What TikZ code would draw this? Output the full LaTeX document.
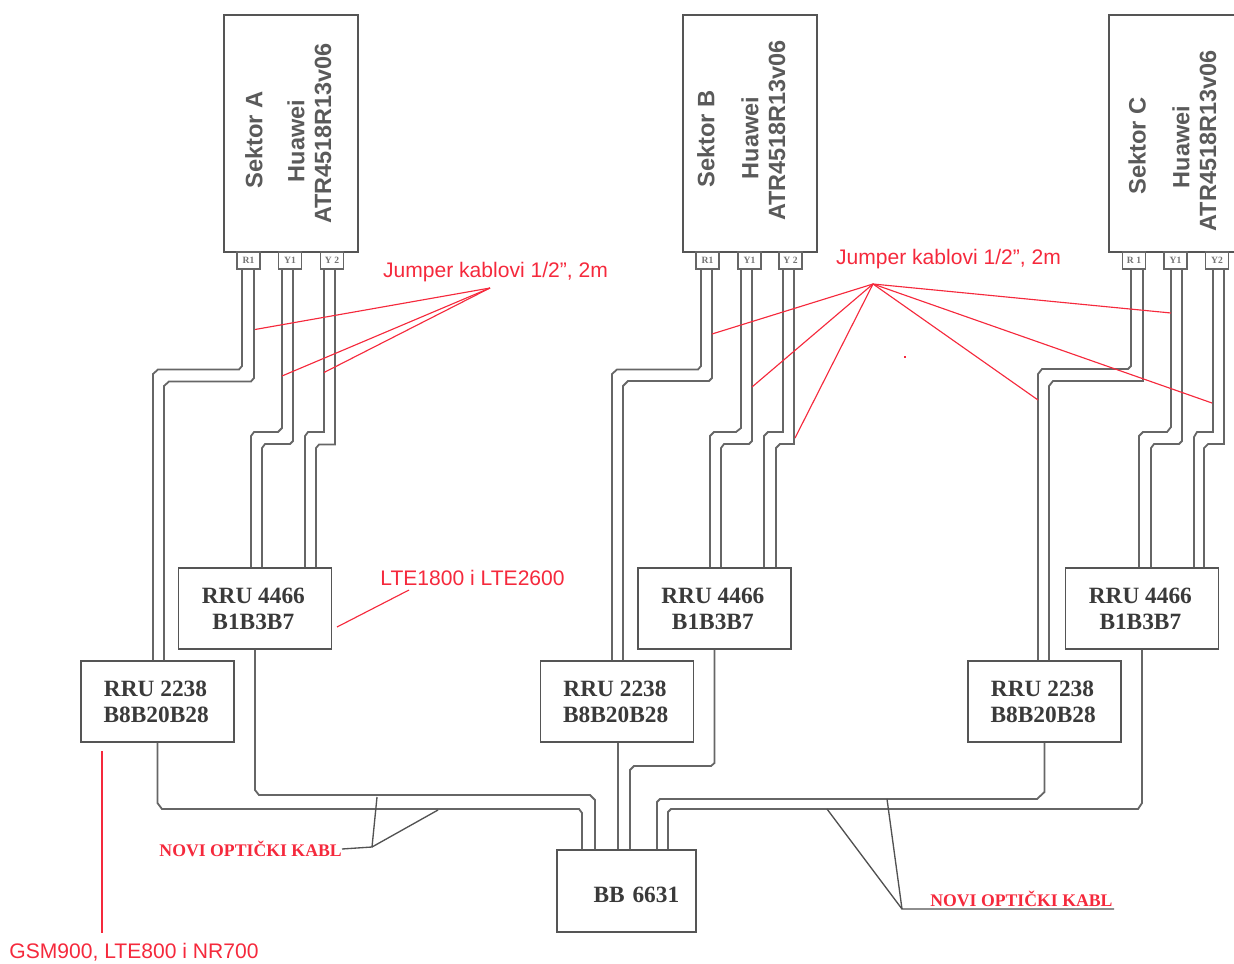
\documentclass[tikz,border=0pt]{standalone}
\usepackage{fontspec}
\setmainfont{Liberation Sans}
\newfontfamily\sbf{Liberation Serif}[BoldFont={Liberation Serif Bold}]
\definecolor{cbl}{HTML}{666666}
\definecolor{bxl}{HTML}{555555}
\definecolor{lab}{HTML}{5A5A5A}
\definecolor{dk}{HTML}{3A3A3A}
\definecolor{rd}{HTML}{F5293C}
\tikzset{
  cable/.style={draw=cbl,line width=1.35pt},
  antbox/.style={draw=bxl,line width=1.5pt,minimum width=100.5pt,minimum height=177.75pt,inner sep=0pt,fill=white},
  portbox/.style={draw=cbl,line width=1.1pt,minimum width=17.25pt,minimum height=12.75pt,inner sep=0pt,font=\sbf\bfseries\fontsize{7.2pt}{8pt}\selectfont,text=gray!90!black},
  rrubox/.style={draw=bxl,line width=1.3pt,minimum width=114.75pt,minimum height=60.75pt,inner sep=0pt,align=center,text=dk,font=\sbf\bfseries\fontsize{17.5pt}{19.6pt}\selectfont},
  bbbox/.style={draw=bxl,line width=1.3pt,minimum width=104.25pt,minimum height=61.5pt,inner sep=0pt,text=dk,font=\sbf\bfseries\fontsize{17.5pt}{19.6pt}\selectfont},
  sectxt/.style={rotate=90,inner sep=0pt,text=lab,font=\bfseries\fontsize{17.6pt}{20pt}\selectfont},
  sectname/.style={sectxt,font=\bfseries\fontsize{17.8pt}{20pt}\selectfont},
  rlabel/.style={inner sep=0pt,text=rd,font=\fontsize{15.8pt}{18pt}\selectfont},
  klabel/.style={inner sep=0pt,text=rd,font=\sbf\bfseries\fontsize{13.3pt}{15pt}\selectfont},
  rleader/.style={draw=rd,line width=0.85pt},
  kleader/.style={draw=cbl!80!black,line width=1pt}
}
\begin{document}
\begin{tikzpicture}[x=0.75pt,y=-0.75pt]
\useasboundingbox (0,0) rectangle (1234,963);
\clip (0,0) rectangle (1234,963);
% antennas
\node[antbox] (antA) at (291,133.5) {};
\node[antbox] (antB) at (750,133.5) {};
\node[antbox] (antC) at (1176,133.5) {};
\node[sectname] (sA1) at (254,140) {Sektor A};
\node[sectxt] (sA2) at (296,141) {Huawei};
\node[sectxt] (sA3) at (323,133.5) {ATR4518R13v06};
\node[sectname] (sB1) at (706,139) {Sektor B};
\node[sectxt] (sB2) at (750,138) {Huawei};
\node[sectxt] (sB3) at (777,130.5) {ATR4518R13v06};
\node[sectname] (sC1) at (1137,146) {Sektor C};
\node[sectxt] (sC2) at (1181,147) {Huawei};
\node[sectxt] (sC3) at (1208,141) {ATR4518R13v06};
% ports
\node[portbox] (rA) at (248.5,260.5) {R1};
\node[portbox] (yA) at (290,260.5) {Y1};
\node[portbox] (zA) at (332,260.5) {Y 2};
\node[portbox] (rB) at (707.5,260.5) {R1};
\node[portbox] (yB) at (749.5,260.5) {Y1};
\node[portbox] (zB) at (790.5,260.5) {Y 2};
\node[portbox] (rC) at (1134,260.5) {R 1};
\node[portbox] (yC) at (1175.5,260.5) {Y1};
\node[portbox] (zC) at (1217,260.5) {Y2};
% RRUs and BB
\node[rrubox] (hA) at (255,608.5) {RRU 4466\hspace*{2.5pt}\\B1B3B7\hspace*{2.5pt}};
\node[rrubox] (lA) at (157.5,701.5) {RRU 2238\hspace*{3pt}\\B8B20B28\hspace*{2pt}};
\node[rrubox] (hB) at (714.5,608.5) {RRU 4466\hspace*{2.5pt}\\B1B3B7\hspace*{2.5pt}};
\node[rrubox] (lB) at (617,701.5) {RRU 2238\hspace*{3pt}\\B8B20B28\hspace*{2pt}};
\node[rrubox] (hC) at (1142,608.5) {RRU 4466\hspace*{2.5pt}\\B1B3B7\hspace*{2.5pt}};
\node[rrubox] (lC) at (1044.5,701.5) {RRU 2238\hspace*{3pt}\\B8B20B28\hspace*{2pt}};
\node[bbbox,text width=84pt,align=right] (bb) at (626.5,891) {\raisebox{-3.5pt}[14pt][3.4pt]{BB 6631}\hspace*{2.5pt}};
% jumpers, sector A
\draw[cable] (rA.south -| 242,0) -- (242,366) -- (239,369.5) -- (158,369.5) -- (153,374) -- (lA.north -| 153,0);
\draw[cable] (rA.south -| 254,0) -- (254,378) -- (251,381.5) -- (169,381.5) -- (164,386) -- (lA.north -| 164,0);
\draw[cable] (yA.south -| 282,0) -- (282,428) -- (278,432) -- (254,432) -- (251,436) -- (hA.north -| 251,0);
\draw[cable] (yA.south -| 293,0) -- (293,441) -- (290,444) -- (265,444) -- (262,448) -- (hA.north -| 262,0);
\draw[cable] (zA.south -| 324,0) -- (324,432) -- (308,432) -- (305,436) -- (hA.north -| 305,0);
\draw[cable] (zA.south -| 335,0) -- (335,444.5) -- (319,444.5) -- (316,448) -- (hA.north -| 316,0);
% jumpers, sector B
\draw[cable] (rB.south -| 701,0) -- (701,366) -- (698,369.5) -- (617,369.5) -- (612,374) -- (lB.north -| 612,0);
\draw[cable] (rB.south -| 712,0) -- (712,378) -- (709,381) -- (628,381) -- (623,386) -- (lB.north -| 623,0);
\draw[cable] (yB.south -| 741,0) -- (741,428) -- (736,432) -- (714,432) -- (710,436) -- (hB.north -| 710,0);
\draw[cable] (yB.south -| 752,0) -- (752,441) -- (749,444) -- (724,444) -- (721,448) -- (hB.north -| 721,0);
\draw[cable] (zB.south -| 783,0) -- (783,432) -- (768,432) -- (764,436) -- (hB.north -| 764,0);
\draw[cable] (zB.south -| 794,0) -- (794,444) -- (780,444) -- (776,448) -- (hB.north -| 776,0);
% jumpers, sector C
\draw[cable] (rC.south -| 1131,0) -- (1131,366) -- (1128,369) -- (1042,369) -- (1038,374) -- (lC.north -| 1038,0);
\draw[cable] (rC.south -| 1143,0) -- (1143,381) -- (1053,381) -- (1049,386) -- (lC.north -| 1049,0);
\draw[cable] (yC.south -| 1171,0) -- (1171,427) -- (1167,432) -- (1143,432) -- (1139,436) -- (hC.north -| 1139,0);
\draw[cable] (yC.south -| 1182,0) -- (1182,441) -- (1179,444) -- (1154,444) -- (1151,448) -- (hC.north -| 1151,0);
\draw[cable] (zC.south -| 1213,0) -- (1213,432) -- (1197,432) -- (1194,437) -- (hC.north -| 1194,0);
\draw[cable] (zC.south -| 1224,0) -- (1224,444) -- (1208,444) -- (1204,448) -- (hC.north -| 1204,0);
% optical cables to BB
\draw[cable] (hA.south) -- (255,790) -- (259,795) -- (590,795) -- (595,800) -- (bb.north -| 595,0);
\draw[cable] (lA.south) -- (157.5,803) -- (162,809) -- (579,809) -- (582,813) -- (bb.north -| 582,0);
\draw[cable] (lB.south -| 618,0) -- (bb.north -| 618,0);
\draw[cable] (hB.south) -- (714.5,763) -- (711,766) -- (634,766) -- (630,770) -- (bb.north -| 630,0);
\draw[cable] (lC.south) -- (1044.5,792) -- (1037,799) -- (660,799) -- (657,802) -- (bb.north -| 657,0);
\draw[cable] (hC.south) -- (1142,803) -- (1138,809) -- (671,809) -- (668,812) -- (bb.north -| 668,0);
% black leaders
\coordinate (kA) at (372,847);
\coordinate (kAs) at (377,797);
\coordinate (kAt) at (438,810);
\coordinate (kB) at (902,909);
\coordinate (kBs) at (887,799);
\coordinate (kBt) at (827,809);
\coordinate (kBe) at (1114,909);
\node[klabel,anchor=east] (nkA) at (342,849) {NOVI OPTIČKI KABL};
\node[klabel,anchor=west] (nkB) at (930,899) {NOVI OPTIČKI KABL};
\draw[kleader] (nkA.east) -- (kA) -- (kAs);
\draw[kleader] (kA) -- (kAt);
\draw[kleader] (kBe) -- (kB) -- (kBs);
\draw[kleader] (kB) -- (kBt);
% red leaders
\node[rlabel] (jlA) at (495.5,272) {Jumper kablovi 1/2", 2m};
\node[rlabel] (jlB) at (948.5,259) {Jumper kablovi 1/2", 2m};
\node[rlabel] (lte) at (472.5,578) {LTE1800 i LTE2600};
\node[rlabel] (gsm) at (134,952.5) {GSM900, LTE800 i NR700};
\coordinate (hubA) at (490,288);
\coordinate (hubB) at (873,284);
\foreach \n/\p in {a1/{255,329.5},a2/{282,376},a3/{324,372.5}}{\coordinate (\n) at (\p); \draw[rleader] (hubA) -- (\n);}
\foreach \n/\p in {b1/{712,334},b2/{752,387},b3/{795,438},b4/{1171,313},b5/{1212,403},b6/{1038,400}}{\coordinate (\n) at (\p); \draw[rleader] (hubB) -- (\n);}
\coordinate (lteA) at (409,590);
\coordinate (lteB) at (337,627);
\draw[rleader] (lteA) -- (lteB);
\coordinate (gsmA) at (102,751);
\coordinate (gsmB) at (102,933);
\draw[rleader] (gsmA) -- (gsmB);
\coordinate (spA) at (904,357);
\coordinate (spB) at (906,357);
\draw[rleader] (spA) -- (spB);
\end{tikzpicture}
\end{document}
